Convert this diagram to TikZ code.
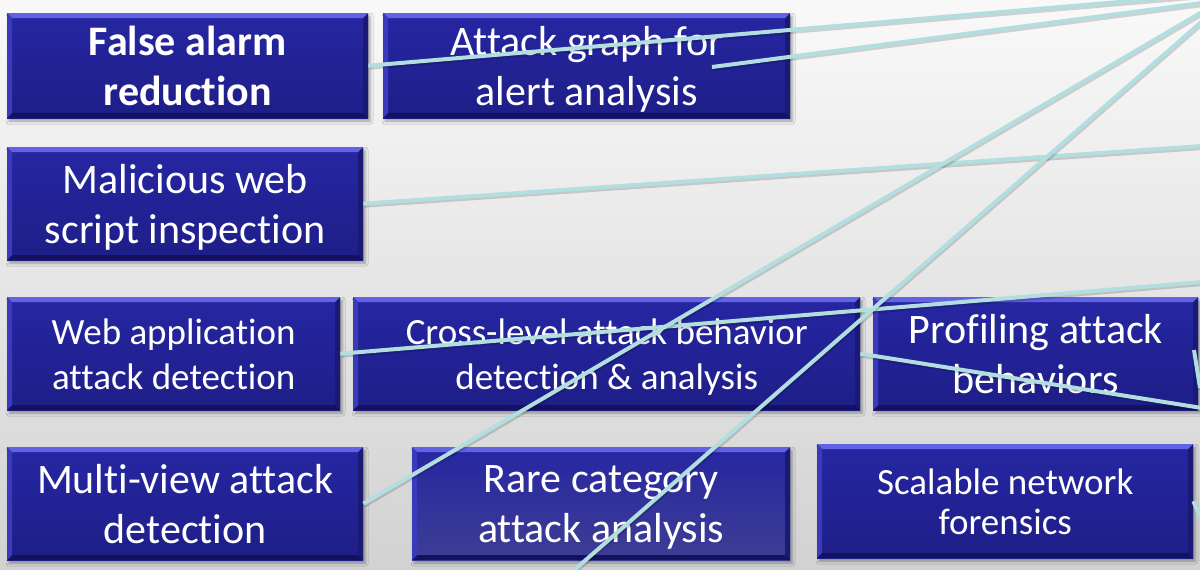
\documentclass[tikz,border=0pt]{standalone}
\usepackage{fontspec}
\setmainfont{Carlito}[Ligatures={NoCommon,NoRare,NoContextual}, RawFeature={-liga;-clig;-calt;-dlig}]
\usetikzlibrary{calc,shadows.blur}

\definecolor{bgtop}{RGB}{249,249,249}
\definecolor{bgbot}{RGB}{210,210,210}
\definecolor{boxhi}{RGB}{38,38,162}
\definecolor{boxlo}{RGB}{30,30,136}
\definecolor{boxhaze}{RGB}{62,62,148}
\definecolor{bevtop}{RGB}{98,98,228}
\definecolor{bevleft}{RGB}{58,58,188}
\definecolor{bevright}{RGB}{26,26,116}
\definecolor{bevbot}{RGB}{18,18,94}
\definecolor{linkcol}{RGB}{178,222,224}

\tikzset{
  tile/.style={rectangle, anchor=north west, inner sep=0pt, align=center,
    text=white, text depth=0pt, top color=boxhi, bottom color=boxlo,
    blur shadow={shadow xshift=2pt, shadow yshift=-3pt,
      shadow blur radius=3pt, shadow opacity=35},
    path picture={
      % bevelled rim: light top and left, dark right and bottom
      \fill[bevtop] (path picture bounding box.north west)
        -- (path picture bounding box.north east)
        -- ([shift={(-5pt,-5pt)}]path picture bounding box.north east)
        -- ([shift={(5pt,-5pt)}]path picture bounding box.north west) -- cycle;
      \fill[bevleft] (path picture bounding box.north west)
        -- ([shift={(5pt,-5pt)}]path picture bounding box.north west)
        -- ([shift={(5pt,5pt)}]path picture bounding box.south west)
        -- (path picture bounding box.south west) -- cycle;
      \fill[bevright] (path picture bounding box.north east)
        -- ([shift={(-5pt,-5pt)}]path picture bounding box.north east)
        -- ([shift={(-5pt,5pt)}]path picture bounding box.south east)
        -- (path picture bounding box.south east) -- cycle;
      \fill[bevbot] (path picture bounding box.south west)
        -- ([shift={(5pt,5pt)}]path picture bounding box.south west)
        -- ([shift={(-5pt,5pt)}]path picture bounding box.south east)
        -- (path picture bounding box.south east) -- cycle;
    }},
  hazy/.style={top color=boxhi, bottom color=boxhaze},
  txtbig/.style={font=\fontsize{42}{50}\selectfont},
  txtbold/.style={font=\fontsize{42}{50}\selectfont\bfseries},
  txtmid/.style={font=\fontsize{37}{45}\selectfont},
  txttight/.style={font=\fontsize{37}{40}\selectfont},
  link/.style={draw=linkcol, line width=4pt,
    preaction={draw=black, opacity=0.16, line width=4pt,
      transform canvas={xshift=1pt, yshift=-2pt}}},
}

\begin{document}
\begin{tikzpicture}[x=1pt, y=-1pt]
\useasboundingbox (0,0) rectangle (1200,570);
\clip (0,0) rectangle (1200,570);
\shade[top color=bgtop, bottom color=bgbot] (0,0) rectangle (1200,570);

% topic tiles
\node[tile, txtbold, minimum width=361pt, minimum height=105pt] (fa) at (7,13) {False alarm\\reduction};
\node[tile, txtbig, minimum width=407pt, minimum height=105pt] (ag) at (383,13) {Attack graph for\\alert analysis};
\node[tile, txtbig, minimum width=356pt, minimum height=113pt] (mw) at (7,147) {Malicious web\\script inspection};
\node[tile, txtmid, minimum width=333pt, minimum height=113pt] (wa) at (7,297) {Web application\\attack detection};
\node[tile, txtmid, minimum width=507pt, minimum height=113pt] (cl) at (353,297) {Cross-level attack behavior\\detection \& analysis};
\node[tile, txtbig, minimum width=325pt, minimum height=113pt] (pf) at (873,297) {Profiling attack\\behaviors};
\node[tile, txtbig, minimum width=356pt, minimum height=113pt] (mv) at (7,447) {Multi-view attack\\detection};
\node[tile, hazy, txtbig, minimum width=378pt, minimum height=113pt] (rc) at (412,447) {Rare category\\attack analysis};
\node[tile, txttight, minimum width=376pt, minimum height=114pt] (sn) at (817,444) {Scalable network\\forensics};

% free ends of the connectors
\coordinate (s2) at (712,67);
\coordinate (s7) at (572,572);
\coordinate (s8) at (1194,350);
\coordinate (e1) at (1202,-5);
\coordinate (e2) at (1202,3);
\coordinate (e3) at (1202,146);
\coordinate (e4) at (1202,282);
\coordinate (e5) at (1202,408);
\coordinate (e6) at (1202,12);
\coordinate (e7) at (1207,17);
\coordinate (e8) at (1200,388);
\coordinate (e9) at (1203,524);

% connectors
\draw[link] (fa.east) -- (e1);
\draw[link] (s2) -- (e2);
\draw[link] (mw.east) -- (e3);
\draw[link] (wa.east) -- (e4);
\draw[link] (cl.east) -- (e5);
\draw[link] (mv.east) -- (e6);
\draw[link] (s7) -- (e7);
\draw[link] (s8) -- (e8);
\draw[link] (sn.east) -- (e9);
\end{tikzpicture}
\end{document}
